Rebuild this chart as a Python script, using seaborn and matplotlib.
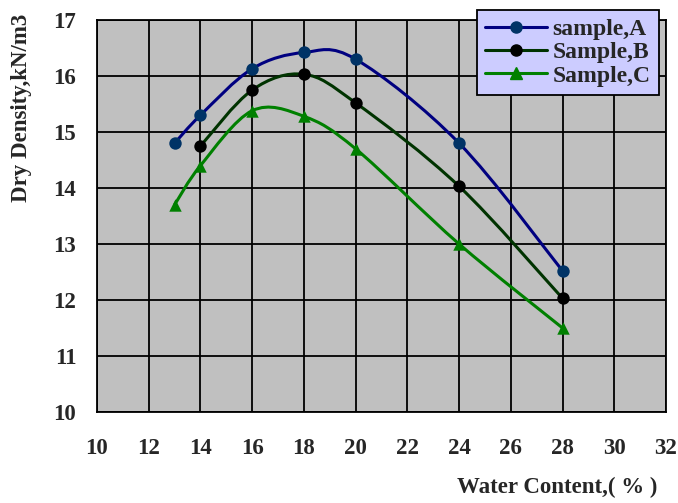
import matplotlib
matplotlib.use('Agg')
import matplotlib.pyplot as plt
import seaborn as sns
import numpy as np
from matplotlib.path import Path
from matplotlib.patches import PathPatch
from matplotlib.lines import Line2D

# data
water_a = [13, 14, 16, 18, 20, 24, 28]
dens_a = [14.8, 15.3, 16.13, 16.42, 16.3, 14.8, 12.52]
water_b = [14, 16, 18, 20, 24, 28]
dens_b = [14.75, 15.75, 16.03, 15.52, 14.03, 12.03]
water_c = [13, 14, 16, 18, 20, 24, 28]
dens_c = [13.7, 14.4, 15.38, 15.28, 14.7, 13.0, 11.5]
labels = ['sample,A', 'Sample,B', 'Sample,C']

line_colors = ['#000080', '#003300', '#008000']
marker_colors = ['#003366', '#000000', '#008000']
markers = ['o', 'o', '^']

sns.set_style('white')
plt.rcParams['font.family'] = ['Liberation Serif', 'DejaVu Serif']
plt.rcParams['font.weight'] = 'bold'


def smooth_path(x, y):
    # excel-like smoothed line: cubic bezier segments, control points from neighbours
    pts = np.column_stack([x, y]).astype(float)
    n = len(pts)
    verts = [pts[0]]
    codes = [Path.MOVETO]
    for i in range(n - 1):
        p0 = pts[i - 1] if i > 0 else pts[i]
        p1 = pts[i]
        p2 = pts[i + 1]
        p3 = pts[i + 2] if i + 2 < n else pts[i + 1]
        c1 = p1 + (p2 - p0) / 6.0
        c2 = p2 - (p3 - p1) / 6.0
        verts += [c1, c2, p2]
        codes += [Path.CURVE4] * 3
    return Path(verts, codes)


fig = plt.figure(figsize=(6.78, 5.03), dpi=100)
ax = fig.add_axes([97 / 678, 1 - 412 / 503, (666 - 97) / 678, (412 - 20) / 503])
ax.set_facecolor('#c0c0c0')

series = [(water_a, dens_a), (water_b, dens_b), (water_c, dens_c)]
handles = []
for (x, y), lab, lc, mc, mk in zip(series, labels, line_colors, marker_colors, markers):
    patch = PathPatch(smooth_path(x, y), facecolor='none', edgecolor=lc, lw=2.2, zorder=3)
    ax.add_patch(patch)
    sns.scatterplot(x=x, y=y, ax=ax, marker=mk, color=mc, s=80, edgecolor=mc,
                    linewidth=0, zorder=4, legend=False)
    handles.append(Line2D([], [], color=lc, lw=2.2, marker=mk, markersize=8,
                          markerfacecolor=mc, markeredgecolor=mc, label=lab))

ax.set_xlim(10, 32)
ax.set_ylim(10, 17)
ax.set_xticks(range(10, 33, 2))
ax.set_yticks(range(10, 18))
ax.grid(True, color='black', lw=1.3)
ax.set_axisbelow(True)
for s in ax.spines.values():
    s.set_color('black')
    s.set_linewidth(1.3)
ax.tick_params(axis='both', direction='out', length=8, width=1.3, color='black',
               labelsize=16.5, pad=11)
ax.tick_params(axis='y', pad=7)
for t in ax.get_xticklabels() + ax.get_yticklabels():
    t.set_fontweight('bold')

ax.set_xlabel('')
ax.set_ylabel('')
fig.text(22 / 678, 1 - 108 / 503, 'Dry Density,kN/m3', fontsize=16.5,
         fontweight='bold', rotation=90, ha='center', va='center')
fig.text(557 / 678, 1 - 487 / 503, 'Water Content,( % )', fontsize=16.5,
         fontweight='bold', ha='center', va='center')

leg = ax.legend(handles=handles, loc='upper right',
                bbox_to_anchor=(659 / 678, 1 - 10 / 503), bbox_transform=fig.transFigure,
                fancybox=False, framealpha=1, facecolor='#ccccff', edgecolor='black',
                prop={'family': 'Liberation Serif', 'weight': 'bold', 'size': 17},
                handlelength=2.6, handletextpad=0.25, labelspacing=0.08,
                borderpad=0.35, borderaxespad=0)
leg.get_frame().set_linewidth(1.3)
leg.set_zorder(10)

fig.savefig('out.png', dpi=100)
